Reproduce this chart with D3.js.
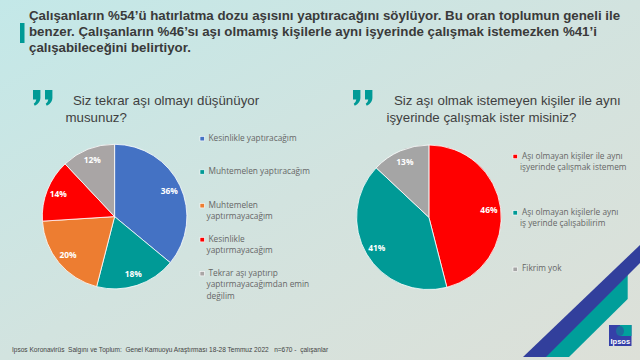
<!DOCTYPE html>
<html><head><meta charset="utf-8">
<script src="https://cdnjs.cloudflare.com/ajax/libs/d3/7.8.5/d3.min.js"></script>
<style>html,body{margin:0;padding:0;background:#d8e2dc}svg{display:block}</style>
</head><body><svg id="c" width="640" height="360"></svg>
<script>
const titleLines = [
  "Çalışanların %54’ü hatırlatma dozu aşısını yaptıracağını söylüyor. Bu oran toplumun geneli ile",
  "benzer. Çalışanların %46’sı aşı olmamış kişilerle aynı işyerinde çalışmak istemezken %41’i",
  "çalışabileceğini belirtiyor."
];
const q1Lines = ["  Siz tekrar aşı olmayı düşünüyor", "musunuz?"];
const q2Lines = ["  Siz aşı olmak istemeyen kişiler ile aynı", "işyerinde çalışmak ister misiniz?"];
const footer = "Ipsos Koronavirüs  Salgını ve Toplum:  Genel Kamuoyu Araştırması 18-28 Temmuz 2022   n=670 -  çalışanlar";

const pie1Labels = [
  ["Kesinlikle yaptıracağım"],
  ["Muhtemelen yaptıracağım"],
  ["Muhtemelen", "yaptırmayacağım"],
  ["Kesinlikle", "yaptırmayacağım"],
  ["Tekrar aşı yaptırıp", "yaptırmayacağımdan emin", "değilim"]
];
const pie1Values = [36, 18, 20, 14, 12];
const pie1Colors = ["#4472c4", "#009a96", "#ed7d31", "#ff0000", "#a9a5a5"];
const pie2Labels = [
  ["Aşı olmayan kişiler ile aynı", "işyerinde çalışmak istemem"],
  ["Aşı olmayan kişilerle aynı", "iş yerinde çalışabilirim"],
  ["Fikrim yok"]
];
const pie2Values = [46, 41, 13];
const pie2Colors = ["#ff0000", "#009a96", "#a5a5a5"];

const svg = d3.select("#c");
const defs = svg.append("defs");
const g = defs.append("linearGradient").attr("id","bg").attr("x1","0").attr("y1","0").attr("x2","1").attr("y2","1");
g.append("stop").attr("offset","0").attr("stop-color","#c3e8e8");
g.append("stop").attr("offset","0.5").attr("stop-color","#d2e3df");
g.append("stop").attr("offset","1").attr("stop-color","#dde0d8");
svg.append("rect").attr("width",640).attr("height",360).attr("fill","url(#bg)");

// decorative bands and logo
const shape = d3.line();
svg.append("path").attr("d",shape([[627.7,274],[627.7,299],[569,357],[544,357]])+"Z").attr("fill","#009e9a");
svg.append("path").attr("d",shape([[640,245],[640,263],[546,357],[523,357]])+"Z").attr("fill","#323f9c");
svg.append("rect").attr("x",609).attr("y",325).attr("width",22.5).attr("height",21).attr("fill","#3540a8");
svg.append("rect").attr("x",620).attr("y",325).attr("width",11.5).attr("height",11).attr("fill","#00a09c");
svg.append("ellipse").attr("cx",620).attr("cy",331).attr("rx",4).attr("ry",5).attr("fill","#1d6d9e");
svg.append("text").attr("x",620.3).attr("y",344).attr("text-anchor","middle")
  .attr("font-family","Liberation Sans").attr("font-weight","bold").attr("font-size",7.5).attr("fill","#fff").text("Ipsos");

// accent bar
svg.append("rect").attr("x",20).attr("y",23).attr("width",4.5).attr("height",20).attr("fill","#009a96");

// headline
svg.append("g").selectAll("text").data(titleLines).join("text")
  .attr("x",29).attr("y",(d,i)=>20+i*16)
  .attr("font-family","Liberation Sans").attr("font-weight","bold").attr("font-size",13.3).attr("fill","#3a3a3a")
  .text(d=>d);

function question(lines, x, qx){
  const q = svg.append("g").attr("transform",`translate(${qx},90)`).attr("fill","#009a96");
  [0,12].forEach(dx=>q.append("path").attr("transform",`translate(${dx},0)`)
    .attr("d","M0,0h7.4v8q0,5-5.6,7.8l-1.1-2q2.2-1.5,2.6-4.4h-3.3z"));
  svg.append("g").selectAll("text").data(lines).join("text")
    .style("white-space","pre")
    .attr("x",x).attr("y",(d,i)=>105+i*17)
    .attr("font-family","Liberation Sans").attr("font-size",13.3).attr("fill","#3f3f3f").text(d=>d);
}
question(q1Lines, 65.5, 33);
question(q2Lines, 386.5, 353);

function drawPie(values, colors, cx, cy, r, labelR){
  const pie = d3.pie().sort(null).startAngle(0).endAngle(2*Math.PI);
  const arc = d3.arc().innerRadius(0).outerRadius(r);
  const lab = d3.arc().innerRadius(labelR).outerRadius(labelR);
  const p = svg.append("g").attr("transform",`translate(${cx},${cy})`);
  p.selectAll("path").data(pie(values)).join("path").attr("d",arc)
    .attr("fill",(d,i)=>colors[i]).attr("stroke","#fff").attr("stroke-width",0.8);
  p.selectAll("text").data(pie(values)).join("text")
    .attr("transform",d=>`translate(${lab.centroid(d)})`)
    .attr("text-anchor","middle").attr("dy","0.36em")
    .attr("font-family","Open Sans").attr("font-weight","bold").attr("font-size",8.4).attr("fill","#fff")
    .text(d=>d.value+"%");
}
drawPie(pie1Values, pie1Colors, 114.6, 216.6, 72.3, 60.5);
drawPie(pie2Values, pie2Colors, 428.9, 217.3, 72.3, 60.5);

function legend(labels, colors, tops, sx, tx, tx2){
  labels.forEach((lines,i)=>{
    svg.append("rect").attr("x",sx).attr("y",tops[i]-4.2).attr("width",4.4).attr("height",4.4)
      .attr("fill",colors[i]).attr("stroke","#fff").attr("stroke-width",0.6);
    svg.append("g").selectAll("text").data(lines).join("text")
      .attr("x",(d,j)=>j?tx2:tx).attr("y",(d,j)=>tops[i]+j*11.5)
      .attr("font-family","Open Sans").attr("font-size",8.3).attr("fill","#666").text(d=>d);
  });
}
legend(pie1Labels, pie1Colors, [140.7,174,207.7,241.7,275.7], 200, 208.5, 206.5);
legend(pie2Labels, pie2Colors, [158.5,214.8,271.3], 513, 522, 520);

svg.append("text").style("white-space","pre")
  .attr("x",12).attr("y",351.5).attr("font-family","Liberation Sans").attr("font-size",6.55).attr("fill","#444").text(footer);
</script></body></html>
